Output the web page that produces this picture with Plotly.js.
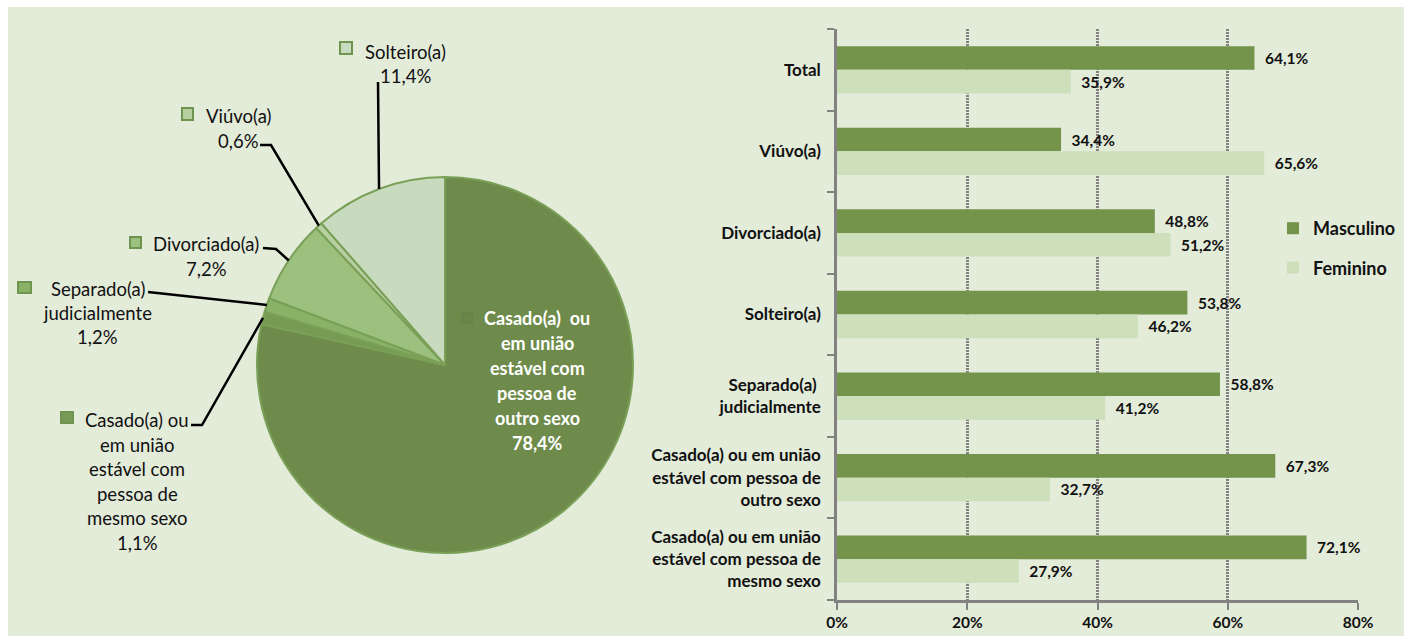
<!DOCTYPE html>
<html>
<head>
<meta charset="utf-8">
<script src="https://cdn.plot.ly/plotly-3.0.1.min.js"></script>
<style>
  html, body { margin: 0; padding: 0; background: #ffffff; }
  #chart { width: 1408px; height: 636px; }
</style>
</head>
<body>
<div id="chart"></div>
<script>
// ---------- DATA ----------
const pieLabels = [
  'Casado(a) ou em união estável com pessoa de outro sexo',
  'Casado(a) ou em união estável com pessoa de mesmo sexo',
  'Separado(a) judicialmente',
  'Divorciado(a)',
  'Viúvo(a)',
  'Solteiro(a)'
];
const pieValues = [78.4, 1.1, 1.2, 7.2, 0.6, 11.4];

// label text lines for pie (name lines; the value line is added from pieValues)
const pieLabelLines = [
  ['Casado(a)  ou', 'em união', 'estável com', 'pessoa de', 'outro sexo'],
  ['Casado(a) ou', 'em união', 'estável com', 'pessoa de', 'mesmo sexo'],
  ['Separado(a)', 'judicialmente'],
  ['Divorciado(a)'],
  ['Viúvo(a)'],
  ['Solteiro(a)']
];

const barCategories = [
  'Total',
  'Viúvo(a)',
  'Divorciado(a)',
  'Solteiro(a)',
  'Separado(a) judicialmente',
  'Casado(a) ou em união estável com pessoa de outro sexo',
  'Casado(a) ou em união estável com pessoa de mesmo sexo'
];
const barTickLabels = [
  'Total',
  'Viúvo(a)',
  'Divorciado(a)',
  'Solteiro(a)',
  'Separado(a) <br>judicialmente',
  'Casado(a) ou em união<br>estável com pessoa de<br>outro sexo',
  'Casado(a) ou em união<br>estável com pessoa de<br>mesmo sexo'
];
const masculino = [64.1, 34.4, 48.8, 53.8, 58.8, 67.3, 72.1];
const feminino  = [35.9, 65.6, 51.2, 46.2, 41.2, 32.7, 27.9];
const seriesNames = ['Masculino', 'Feminino'];
const xTickVals = [0, 20, 40, 60, 80];
const xTickText = ['0%', '20%', '40%', '60%', '80%'];

// ---------- STYLE / LAYOUT CONSTANTS ----------
const W = 1408, H = 636;
const pieColors = ['#6e8b4b', '#779b55', '#89b266', '#9cc17e', '#b6d0a0', '#c9dbbf'];
const sliceLine = '#7aa058';
const colMasc = '#73944a', colFem = '#cde0bb';
const bg = '#e3ebd9';
const txt = '#111111';
const gridCol = '#828282';
const pieCx = 445, pieCy = 365, pieR = 188;

// label placement (pixels): centre x, first-line y, line height, legend key box, leader-line start points
const labelPlace = [
  {cx: 537, y0: 318, lh: 25, key: [462, 313, 472, 323], inside: true},
  {cx: 137, y0: 420, lh: 24.6, key: [61, 412, 73, 423], lead: [[191, 425], [202, 425]]},
  {cx: 98,  y0: 289, lh: 24, key: [18, 282, 31, 293], lead: [[148, 292]]},
  {cx: 206, y0: 244, lh: 25, key: [130, 237, 141, 248], lead: [[263, 248], [276, 249]]},
  {cx: 238.5, y0: 116, lh: 25, key: [182, 108, 193, 120], lead: [[260, 145], [271, 145]]},
  {cx: 405, y0: 52, lh: 24, key: [340, 42, 352, 54], lead: [[378, 82]]}
];

const px = x => x / W;
const py = y => 1 - y / H;
const fmt = v => v.toFixed(1).replace('.', ',') + '%';

const shapes = [];
const annotations = [];

// panel background
shapes.push({type: 'rect', xref: 'paper', yref: 'paper', x0: px(8), x1: px(1404), y0: 0, y1: py(7),
  fillcolor: bg, line: {width: 0}, layer: 'below'});

// pie labels + leader lines (anchor on circumference computed from data)
const total = pieValues.reduce((a, b) => a + b, 0);
let cum = 0;
pieValues.forEach((v, i) => {
  const mid = (cum + v / 2) / total;
  cum += v;
  const th = mid * 2 * Math.PI;
  const ax = pieCx + pieR * Math.sin(th);
  const ay = pieCy - pieR * Math.cos(th);
  const p = labelPlace[i];
  const lines = pieLabelLines[i].concat([fmt(v)]);
  lines.forEach((t, k) => {
    annotations.push({
      xref: 'paper', yref: 'paper', x: px(p.cx), y: py(p.y0 + k * p.lh),
      xanchor: 'center', yanchor: 'middle', showarrow: false, text: t,
      font: p.inside ? {family: 'Lato', size: 18, color: '#ffffff', weight: 'bold'}
                     : {family: 'Lato', size: 18.5, color: txt}
    });
  });
  // legend key
  shapes.push({type: 'rect', xref: 'paper', yref: 'paper',
    x0: px(p.key[0]), x1: px(p.key[2]), y0: py(p.key[3]), y1: py(p.key[1]),
    fillcolor: p.inside ? '#6a8748' : pieColors[i],
    line: {color: p.inside ? '#66834a' : '#6f9450', width: 2}});
  if (p.lead) {
    let d = '';
    p.lead.forEach((pt, k) => { d += (k === 0 ? 'M' : ' L') + px(pt[0]) + ',' + py(pt[1]); });
    d += ' L' + px(ax) + ',' + py(ay);
    shapes.push({type: 'path', xref: 'paper', yref: 'paper', path: d,
      line: {color: '#000000', width: 2.5}});
  }
});

const pieTrace = {
  type: 'pie',
  labels: pieLabels,
  values: pieValues,
  sort: false,
  direction: 'clockwise',
  rotation: 0,
  textinfo: 'none',
  hoverinfo: 'label+percent',
  showlegend: false,
  marker: {colors: pieColors, line: {color: sliceLine, width: 2}},
  domain: {x: [px(pieCx - pieR), px(pieCx + pieR)], y: [py(pieCy + pieR), py(pieCy - pieR)]}
};

const nb = '\u00a0\u00a0';
const barFont = {family: 'Lato', size: 15.5, color: txt, weight: 'bold'};
const mTrace = {
  type: 'bar', orientation: 'h', name: seriesNames[0], legendgroup: 'm',
  y: barCategories, x: masculino, marker: {color: colMasc},
  text: masculino.map(v => nb + fmt(v)), textposition: 'outside', constraintext: 'none',
  cliponaxis: false, textfont: barFont, hoverinfo: 'x+name', xaxis: 'x', yaxis: 'y'
};
const fTrace = {
  type: 'bar', orientation: 'h', name: seriesNames[1], legendgroup: 'f',
  y: barCategories, x: feminino, marker: {color: colFem},
  text: feminino.map(v => nb + fmt(v)), textposition: 'outside', constraintext: 'none',
  cliponaxis: false, textfont: barFont, hoverinfo: 'x+name', xaxis: 'x', yaxis: 'y'
};

const layout = {
  width: W, height: H,
  margin: {l: 0, r: 0, t: 0, b: 0},
  paper_bgcolor: '#ffffff',
  plot_bgcolor: 'rgba(0,0,0,0)',
  barmode: 'group',
  bargap: 0.42,
  bargroupgap: 0,
  showlegend: true,
  legend: {
    x: px(1273), y: py(210), xanchor: 'left', yanchor: 'top',
    bgcolor: 'rgba(0,0,0,0)', tracegroupgap: 13, traceorder: 'grouped',
    font: {family: 'Lato', size: 18, color: txt, weight: 'bold'},
    itemwidth: 30
  },
  xaxis: {
    domain: [px(837), px(1358)], range: [0, 80], anchor: 'y',
    tickvals: xTickVals, ticktext: xTickText,
    showgrid: true, gridcolor: gridCol, gridwidth: 2.5, griddash: '2px,1px',
    zeroline: false, showline: true, linecolor: gridCol, linewidth: 2.5,
    ticks: 'outside', ticklen: 7, tickwidth: 2, tickcolor: gridCol,
    tickfont: {family: 'Lato', size: 15.5, color: txt, weight: 'bold'},
    fixedrange: true
  },
  yaxis: {
    domain: [py(600), py(29)], anchor: 'x',
    type: 'category', autorange: 'reversed',
    tickvals: barCategories, ticktext: barTickLabels,
    showgrid: false, zeroline: false, showline: true, linecolor: gridCol, linewidth: 2.5,
    ticks: 'outside', tickson: 'boundaries', ticklen: 7, tickwidth: 2, tickcolor: gridCol,
    ticklabelstandoff: 10,
    tickfont: {family: 'Lato', size: 17, color: txt, weight: 'bold'},
    fixedrange: true
  },
  shapes: shapes,
  annotations: annotations
};

Plotly.newPlot('chart', [pieTrace, mTrace, fTrace], layout, {displayModeBar: false});
</script>
</body>
</html>
